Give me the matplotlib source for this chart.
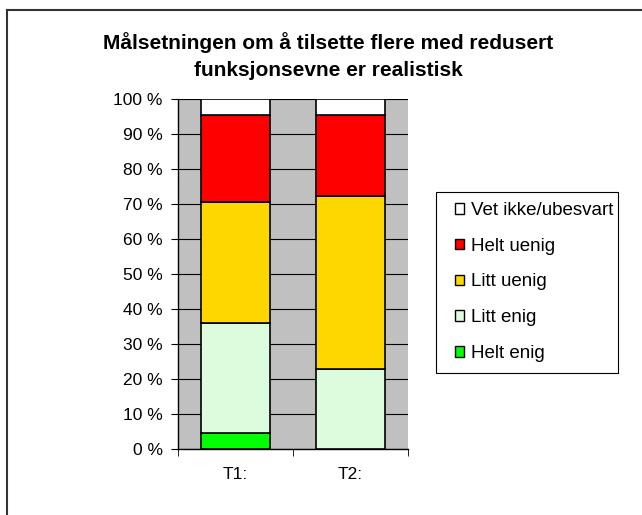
import numpy as np
import matplotlib
matplotlib.use("Agg")
import matplotlib.pyplot as plt
from matplotlib.lines import Line2D
from matplotlib.patches import Patch, Rectangle

plt.rcParams['font.family'] = ['Liberation Sans', 'DejaVu Sans']

# Data (percent)
kategorier = ["T1:", "T2:"]
serier = ["Helt enig", "Litt enig", "Litt uenig", "Helt uenig", "Vet ikke/ubesvart"]
helt_enig = [4.5, 0.0]
litt_enig = [31.6, 22.9]
litt_uenig = [34.6, 49.4]
helt_uenig = [24.6, 23.0]
vet_ikke = [4.7, 4.7]
farger = ["#00FF00", "#DDFCDD", "#FFD700", "#FF0000", "#FFFFFF"]

verdier = [helt_enig, litt_enig, litt_uenig, helt_uenig, vet_ikke]

W, H = 642, 515
fig = plt.figure(figsize=(W / 100, H / 100), dpi=100)
ax = fig.add_axes([178 / W, 1 - 449 / H, 230 / W, 350 / H])
ax.set_facecolor("#C0C0C0")

x = np.arange(len(kategorier))
bunn = np.zeros(len(kategorier))
for navn, vals, farge in zip(serier, verdier, farger):
    ax.bar(x, vals, width=0.6, bottom=bunn, color=farge, edgecolor="black",
           linewidth=1.2, label=navn, zorder=3)
    bunn += np.array(vals)

ax.set_xlim(-0.5, len(kategorier) - 0.5)
ax.set_ylim(0, 100)
ax.set_yticks(np.arange(0, 101, 10))
ax.set_yticklabels([f"{v} %" for v in range(0, 101, 10)], fontsize=12.5)
ax.yaxis.grid(True, color="black", linewidth=0.8, zorder=1)
ax.set_axisbelow(True)

ax.set_xticks(x)
ax.set_xticklabels(kategorier, fontsize=12.5)
ax.tick_params(axis="x", length=0, pad=13)
ax.set_xticks(np.arange(-0.5, len(kategorier), 1.0), minor=True)
ax.tick_params(axis="x", which="minor", length=5, direction="out")
ax.tick_params(axis="y", length=5, direction="out", pad=6)

for side in ["top", "right"]:
    ax.spines[side].set_visible(False)
ax.spines["left"].set_linewidth(1)
ax.spines["bottom"].set_linewidth(1)

fig.text(328 / W, 1 - 56 / H, "Målsetningen om å tilsette flere med redusert\nfunksjonsevne er realistisk",
         ha="center", va="center", fontsize=15, fontweight="bold", linespacing=1.5)

# Legend, reversed order, with a separate frame
handles = [Patch(facecolor=f, edgecolor="black", linewidth=1) for f in farger][::-1]
leg = fig.legend(handles, serier[::-1], loc="upper left",
                 bbox_to_anchor=(455 / W, 1 - 202 / H), fontsize=13.5,
                 frameon=False, handlelength=0.5, handleheight=0.5,
                 handletextpad=0.35, labelspacing=1.0, borderpad=0,
                 borderaxespad=0)
fig.add_artist(Rectangle((436 / W, 1 - 373 / H), 182 / W, 181 / H, transform=fig.transFigure,
                         facecolor="none", edgecolor="black", linewidth=0.8))

# Outer chart frame (only left and top visible)
fig.add_artist(Line2D([7 / W, 7 / W], [0, 1 - 10 / H], color="#333333", linewidth=1.5,
                      transform=fig.transFigure))
fig.add_artist(Line2D([7 / W, 1], [1 - 10 / H, 1 - 10 / H], color="#333333", linewidth=1.5,
                      transform=fig.transFigure))

fig.savefig("out.png", dpi=100)
